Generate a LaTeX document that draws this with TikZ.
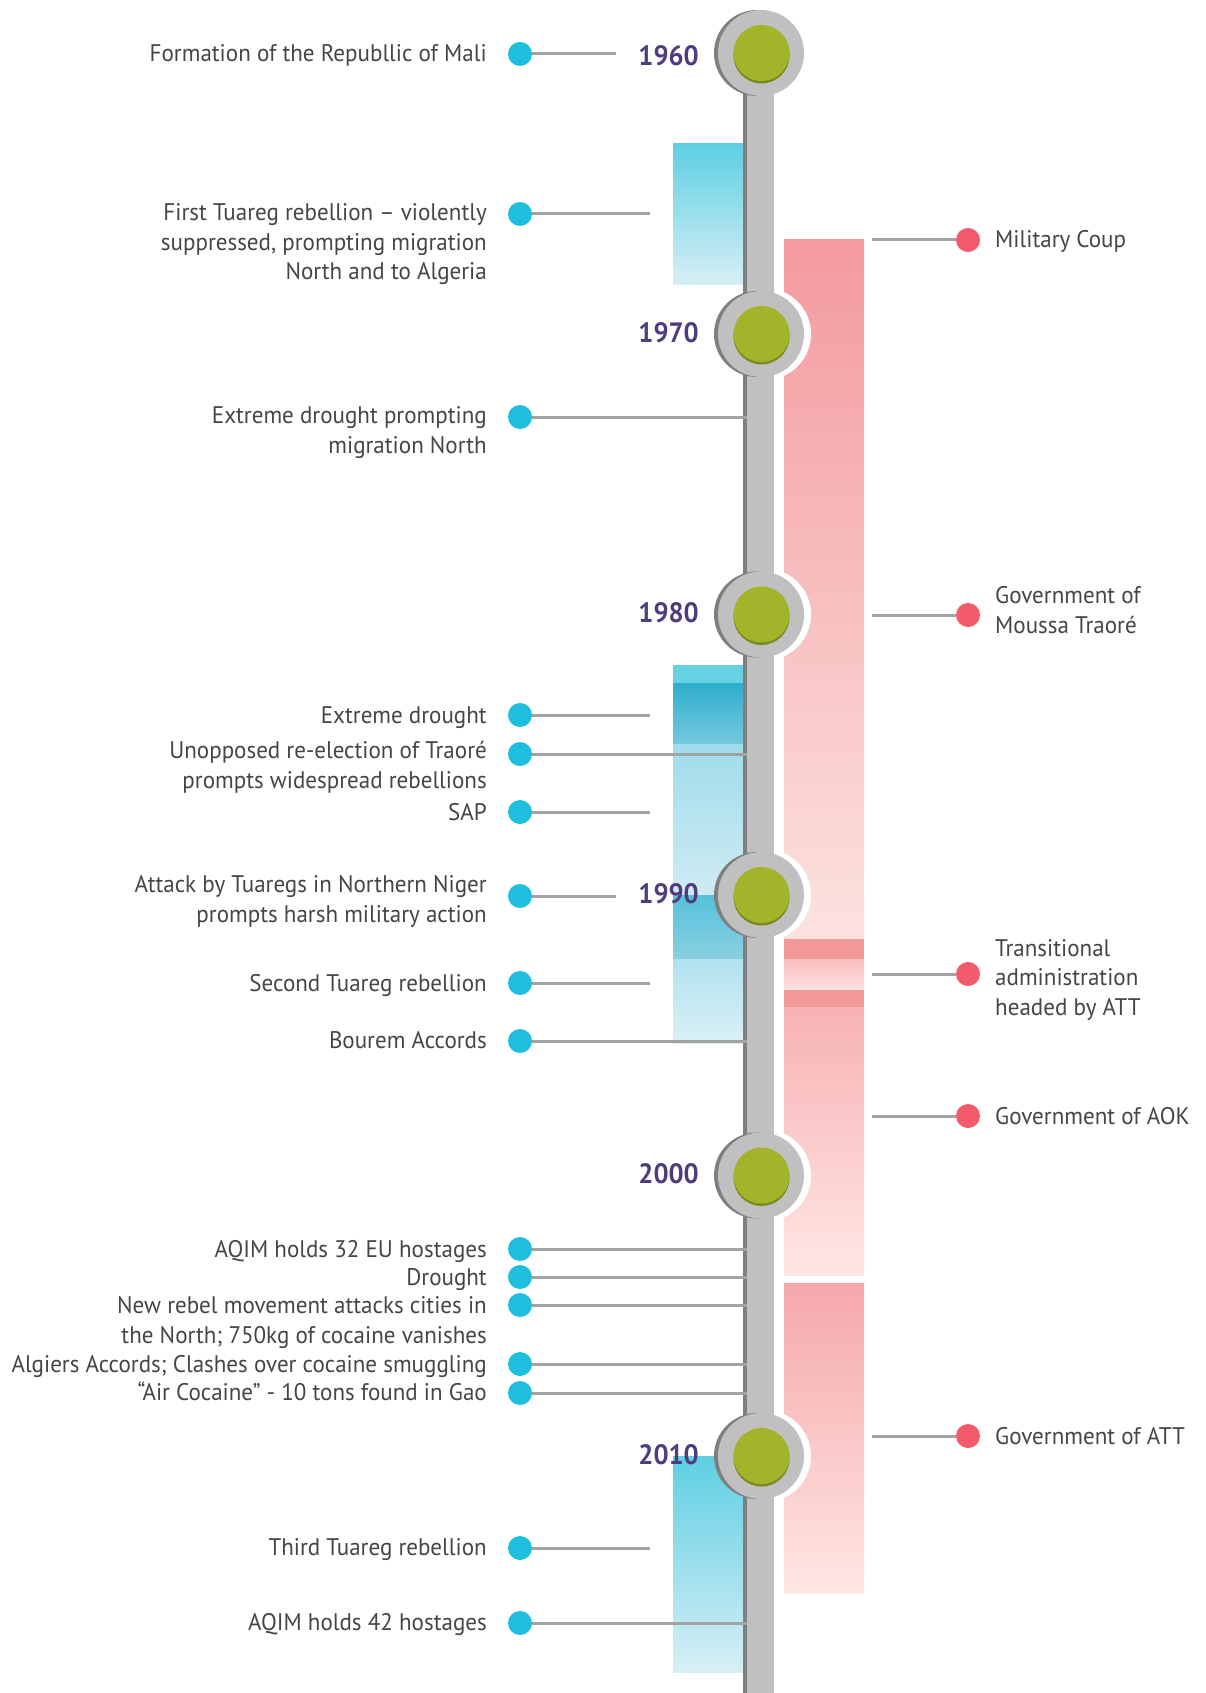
\documentclass[tikz,border=0pt]{standalone}
\usepackage{fontspec}
\setmainfont{PT Sans}
\newfontfamily\labfont{PT Sans}[FakeStretch=0.96]
\newfontfamily\yrfont{PT Sans}[FakeStretch=0.95]
\definecolor{txtc}{HTML}{454545}
\definecolor{yearc}{HTML}{4E3C7E}
\definecolor{bdotc}{HTML}{1EBFDD}
\definecolor{rdotc}{HTML}{F15B6C}
\definecolor{linec}{HTML}{A2A2A2}
\definecolor{spl}{HTML}{C0C0C0}
\definecolor{spd}{HTML}{7F7F7F}
\definecolor{grn}{HTML}{A3B42A}
\definecolor{grnd}{HTML}{7A8A1F}
\definecolor{pkA}{HTML}{F39A9E}
\definecolor{pkB}{HTML}{FCE2DF}
\definecolor{pkD}{HTML}{F4999A}
\definecolor{pkC}{HTML}{F8BCBC}
\definecolor{pkE}{HTML}{F7B2B5}
\definecolor{pkF}{HTML}{F5A8AB}
\definecolor{pkG}{HTML}{FEE6E3}
\definecolor{blA}{HTML}{5ECFE3}
\definecolor{blB}{HTML}{D8EFF5}
\definecolor{blBand}{HTML}{66D1E2}
\definecolor{blDk}{HTML}{2FADCD}
\definecolor{blDk2}{HTML}{76C9DE}
\definecolor{blL1}{HTML}{A0DCEA}
\definecolor{blL2}{HTML}{CFEBF3}
\definecolor{blM1}{HTML}{55C2DA}
\definecolor{blM2}{HTML}{8ACFE1}
\definecolor{blN1}{HTML}{B0E2EE}
\definecolor{blN2}{HTML}{DBF0F6}
\begin{document}
\begin{tikzpicture}[x=1pt,y=-1pt,
  ltext/.style={anchor=base east,align=right,inner sep=0pt,text=txtc,
    font=\labfont\fontsize{24}{29.5}\selectfont},
  rtext/.style={anchor=base west,align=left,inner sep=0pt,text=txtc,
    font=\labfont\fontsize{24}{29.5}\selectfont},
  ldot/.style={circle,fill=bdotc,minimum size=24pt,inner sep=0pt},
  rdot/.style={circle,fill=rdotc,minimum size=24pt,inner sep=0pt},
  conn/.style={draw=linec,line width=3pt},
  yearlab/.style={anchor=base east,inner sep=0pt,text=yearc,
    font=\yrfont\bfseries\fontsize{28}{30}\selectfont}]
\useasboundingbox (0,0) rectangle (1205,1693);
% pink bars
\fill[top color=pkA,bottom color=pkB] (784,240) rectangle (864,939);
\fill[pkD] (784,939) rectangle (864,959);
\fill[top color=pkC,bottom color=pkB] (784,959) rectangle (864,990);
\fill[pkD] (784,990) rectangle (864,1007);
\fill[top color=pkE,bottom color=pkG] (784,1007) rectangle (864,1275);
\fill[top color=pkF,bottom color=pkG] (784,1283) rectangle (864,1593);
% blue bars
\fill[top color=blA,bottom color=blB] (673,144) rectangle (747,285);
\fill[blBand] (673,665) rectangle (747,683);
\fill[top color=blDk,bottom color=blDk2] (673,683) rectangle (747,744);
\fill[top color=blL1,bottom color=blL2] (673,744) rectangle (747,895);
\fill[top color=blM1,bottom color=blM2] (673,895) rectangle (747,959);
\fill[top color=blN1,bottom color=blN2] (673,959) rectangle (747,1043);
\fill[top color=blA,bottom color=blB] (673,1456) rectangle (747,1672);
% white rings
\foreach \cy in {53,334,614.5,895,1175.5,1456}
  \fill[white] (765,\cy) circle[radius=46];
% spine
\fill[spd] (743,53) rectangle (770,1693);
\fill[spl] (747,53) rectangle (774,1693);
% year circles
\foreach \cy/\yr in {53/1960,334/1970,614.5/1980,895/1990,1175.5/2000,1456/2010}{
  \fill[spd] (757,\cy) circle[radius=43];
  \fill[spl] (761,\cy) circle[radius=43];
  \fill[grnd] (761.5,\cy+2.5) circle[radius=28];
  \fill[grn] (761.5,\cy) circle[radius=28];
}
\node[yearlab] (y1960) at (699,66) {1960};
\node[yearlab] (y1970) at (699,342) {1970};
\node[yearlab] (y1980) at (699,622.5) {1980};
\node[yearlab] (y1990) at (699,903) {1990};
\node[yearlab] (y2000) at (699,1183.5) {2000};
\node[yearlab] (y2010) at (699,1464) {2010};
% left events
\node[ldot] (l1) at (520,54) {};
\node[ltext] (t1) at (487,62) {Formation of the Republlic of Mali};
\coordinate (e1) at (616,54);
\draw[conn] (l1) -- (e1);
\node[ldot] (l2) at (520,214) {};
\node[ltext] (t2) at (487,280) {First Tuareg rebellion – violently\\suppressed, prompting migration\\North and to Algeria};
\coordinate (e2) at (650,214);
\draw[conn] (l2) -- (e2);
\node[ldot] (l3) at (520,417) {};
\node[ltext] (t3) at (487,453) {Extreme drought prompting\\migration North};
\coordinate (e3) at (747,417);
\draw[conn] (l3) -- (e3);
\node[ldot] (l4) at (520,715) {};
\node[ltext] (t4) at (487,723) {Extreme drought};
\coordinate (e4) at (650,715);
\draw[conn] (l4) -- (e4);
\node[ldot] (l5) at (520,754) {};
\node[ltext] (t5) at (487,788) {Unopposed re-election of Traoré\\prompts widespread rebellions};
\coordinate (e5) at (747,754);
\draw[conn] (l5) -- (e5);
\node[ldot] (l6) at (520,812) {};
\node[ltext] (t6) at (487,820) {SAP};
\coordinate (e6) at (650,812);
\draw[conn] (l6) -- (e6);
\node[ldot] (l7) at (520,896) {};
\node[ltext] (t7) at (487,922) {Attack by Tuaregs in Northern Niger\\prompts harsh military action};
\coordinate (e7) at (616,896);
\draw[conn] (l7) -- (e7);
\node[ldot] (l8) at (520,983) {};
\node[ltext] (t8) at (487,991) {Second Tuareg rebellion};
\coordinate (e8) at (650,983);
\draw[conn] (l8) -- (e8);
\node[ldot] (l9) at (520,1041) {};
\node[ltext] (t9) at (487,1048) {Bourem Accords};
\coordinate (e9) at (747,1041);
\draw[conn] (l9) -- (e9);
\node[ldot] (l10) at (520,1249) {};
\node[ltext] (t10) at (487,1257) {AQIM holds 32 EU hostages};
\coordinate (e10) at (747,1249);
\draw[conn] (l10) -- (e10);
\node[ldot] (l11) at (520,1277) {};
\node[ltext] (t11) at (487,1285) {Drought};
\coordinate (e11) at (747,1277);
\draw[conn] (l11) -- (e11);
\node[ldot] (l12) at (520,1305) {};
\node[ltext] (t12) at (487,1343) {New rebel movement attacks cities in\\the North; 750kg of cocaine vanishes};
\coordinate (e12) at (747,1305);
\draw[conn] (l12) -- (e12);
\node[ldot] (l13) at (520,1364) {};
\node[ltext] (t13) at (487,1372) {Algiers Accords; Clashes over cocaine smuggling};
\coordinate (e13) at (747,1364);
\draw[conn] (l13) -- (e13);
\node[ldot] (l14) at (520,1393) {};
\node[ltext] (t14) at (487,1400) {“Air Cocaine” - 10 tons found in Gao};
\coordinate (e14) at (747,1393);
\draw[conn] (l14) -- (e14);
\node[ldot] (l15) at (520,1548) {};
\node[ltext] (t15) at (487,1555) {Third Tuareg rebellion};
\coordinate (e15) at (650,1548);
\draw[conn] (l15) -- (e15);
\node[ldot] (l16) at (520,1623) {};
\node[ltext] (t16) at (487,1630) {AQIM holds 42 hostages};
\coordinate (e16) at (747,1623);
\draw[conn] (l16) -- (e16);
% right events
\node[rdot] (r1) at (968,240) {};
\node[rtext] (s1) at (995,248) {Military Coup};
\coordinate (f1) at (872,240);
\draw[conn] (r1) -- (f1);
\node[rdot] (r2) at (968,615) {};
\node[rtext] (s2) at (995,633) {Government of\\Moussa Traoré};
\coordinate (f2) at (872,615);
\draw[conn] (r2) -- (f2);
\node[rdot] (r3) at (968,974) {};
\node[rtext] (s3) at (995,1015) {Transitional\\administration\\headed by ATT};
\coordinate (f3) at (872,974);
\draw[conn] (r3) -- (f3);
\node[rdot] (r4) at (968,1116) {};
\node[rtext] (s4) at (995,1124) {Government of AOK};
\coordinate (f4) at (872,1116);
\draw[conn] (r4) -- (f4);
\node[rdot] (r5) at (968,1436) {};
\node[rtext] (s5) at (995,1444) {Government of ATT};
\coordinate (f5) at (872,1436);
\draw[conn] (r5) -- (f5);
\end{tikzpicture}
\end{document}
